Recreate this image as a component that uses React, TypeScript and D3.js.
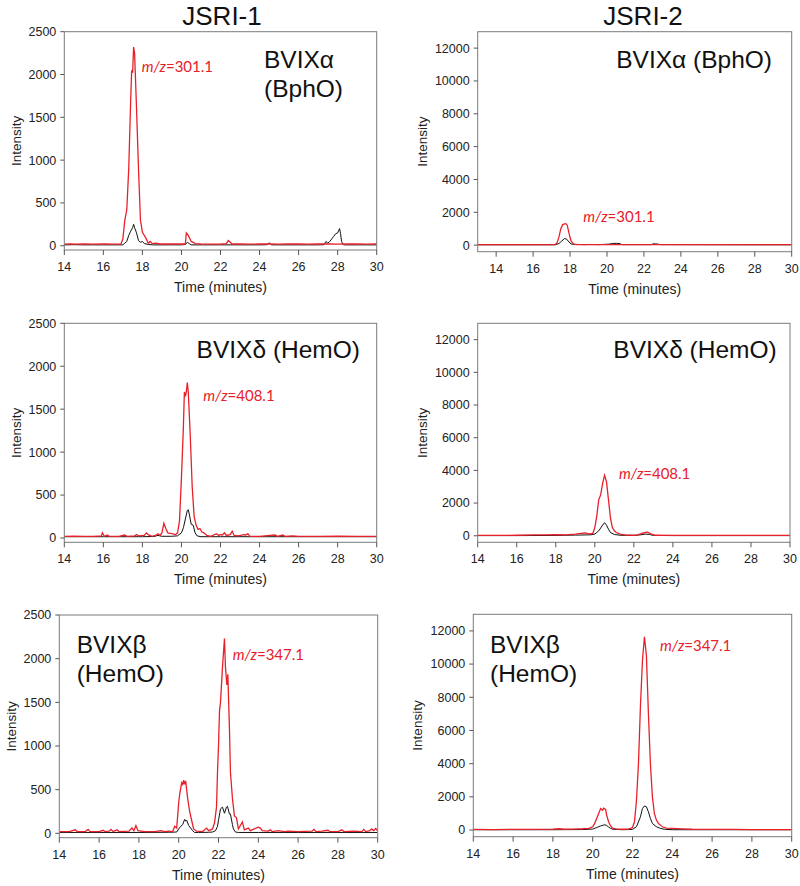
import React from "react";
import * as d3 from "d3";

type Pt = [number, number];

// ---------- Data (time in minutes, intensity) ----------
const columnTitles = ["JSRI-1", "JSRI-2"];
const xTicksStd = [14, 16, 18, 20, 22, 24, 26, 28, 30];
const yTicksLow = [0, 500, 1000, 1500, 2000, 2500];
const yTicksHigh = [0, 2000, 4000, 6000, 8000, 10000, 12000];

// JSRI-1 BVIXα
const redA: Pt[] = [[14,18],[14.3,22],[14.6,18],[15,20],[15.5,18],[16,22],[16.5,18],[16.9,20],[17,80],[17.1,300],[17.2,420],[17.3,900],[17.4,1700],[17.45,2050],[17.5,2020],[17.55,2320],[17.6,2250],[17.7,1600],[17.8,900],[17.9,300],[18,160],[18.1,120],[18.2,80],[18.3,30],[18.4,50],[18.5,25],[18.7,30],[18.9,20],[19.2,22],[19.5,20],[19.9,20],[20.2,20],[20.25,150],[20.35,120],[20.5,50],[20.6,40],[20.7,25],[21,20],[21.5,18],[22,20],[22.3,25],[22.4,60],[22.5,40],[22.6,20],[23,20],[23.5,18],[24,20],[24.5,22],[25,18],[25.5,20],[26,20],[26.5,18],[27,20],[27.5,20],[28,18],[28.5,20],[29,20],[29.5,18],[30,20]];
const blackA: Pt[] = [[14,10],[14.5,12],[15,10],[15.5,10],[16,10],[16.5,10],[17,10],[17.1,30],[17.2,50],[17.3,120],[17.4,170],[17.5,210],[17.55,250],[17.6,210],[17.7,150],[17.8,60],[17.9,40],[18,50],[18.1,25],[18.3,15],[18.5,10],[19,10],[19.5,10],[20,10],[20.2,15],[20.3,40],[20.4,25],[20.5,10],[21,10],[22,10],[23,10],[24,10],[24.4,12],[24.5,35],[24.6,10],[25,10],[26,10],[27,10],[27.3,12],[27.4,50],[27.5,30],[27.6,50],[27.7,80],[27.8,110],[27.9,140],[28,150],[28.1,200],[28.15,140],[28.2,50],[28.3,10],[28.5,10],[29,10],[30,10]];

// JSRI-2 BVIXα
const redB: Pt[] = [[13,30],[14,30],[15,30],[16,30],[17,30],[17.2,40],[17.3,150],[17.4,500],[17.5,1000],[17.6,1250],[17.7,1300],[17.8,1300],[17.85,1200],[17.95,700],[18.05,250],[18.2,60],[18.4,30],[19,30],[20,30],[21,30],[22,30],[23,30],[24,30],[25,30],[26,30],[27,30],[28,30],[29,30],[30,30]];
const blackB: Pt[] = [[13,20],[17.2,20],[17.4,100],[17.55,250],[17.7,400],[17.8,380],[17.9,250],[18,120],[18.1,60],[18.3,40],[18.5,40],[18.8,30],[19,40],[19.6,30],[20.1,60],[20.3,100],[20.5,110],[20.7,90],[20.8,30],[22.4,30],[22.5,80],[22.7,70],[22.9,30],[28.4,20],[30,20]];

// JSRI-1 BVIXδ
const redC: Pt[] = [[14,20],[14.5,22],[15,20],[15.5,20],[15.9,25],[15.95,60],[16.05,20],[16.2,35],[16.3,20],[16.8,20],[17.1,35],[17.2,20],[17.6,25],[17.7,40],[17.8,25],[18.1,30],[18.2,60],[18.3,40],[18.5,20],[18.7,35],[18.8,50],[18.9,30],[19,60],[19.1,170],[19.2,110],[19.3,60],[19.5,50],[19.7,40],[19.8,60],[19.9,200],[20,700],[20.1,1300],[20.15,1700],[20.2,1650],[20.25,1700],[20.3,1810],[20.35,1700],[20.45,1200],[20.55,600],[20.65,250],[20.75,150],[20.85,100],[20.95,110],[21.05,70],[21.15,60],[21.3,30],[21.5,20],[21.8,50],[21.9,30],[22,40],[22.1,35],[22.2,60],[22.3,30],[22.5,40],[22.6,80],[22.7,30],[22.9,25],[23.2,40],[23.3,35],[23.4,50],[23.5,20],[24,20],[24.8,35],[24.9,20],[25.2,35],[25.3,20],[25.7,25],[26,20],[27,18],[28,22],[29,20],[30,20]];
const blackC: Pt[] = [[14,15],[16,15],[18,15],[18.6,18],[18.8,30],[19,20],[19.5,20],[19.8,25],[20,60],[20.1,120],[20.2,220],[20.3,320],[20.35,330],[20.4,280],[20.5,160],[20.6,150],[20.7,60],[20.8,25],[21,15],[22,15],[24,15],[26,15],[28,15],[30,15]];

// JSRI-2 BVIXδ
const redD: Pt[] = [[14,20],[15,20],[16,30],[16.9,60],[17.5,50],[18,70],[18.5,60],[19,100],[19.3,150],[19.5,170],[19.7,120],[19.9,150],[20,500],[20.1,1200],[20.2,2200],[20.3,2500],[20.4,3200],[20.5,3700],[20.6,3300],[20.7,2200],[20.8,1100],[20.9,500],[21,300],[21.1,200],[21.3,100],[21.6,40],[22,30],[22.2,50],[22.4,150],[22.6,200],[22.7,220],[22.9,100],[23.1,30],[24,20],[26,20],[28,20],[30,20]];
const blackD: Pt[] = [[14,10],[16,10],[18,20],[19,40],[19.5,50],[19.8,60],[20,100],[20.2,300],[20.4,650],[20.5,800],[20.6,650],[20.7,400],[20.8,200],[21,80],[21.3,30],[22,20],[22.3,50],[22.6,100],[22.8,80],[23,20],[24,10],[30,10]];

// JSRI-1 BVIXβ
const redE: Pt[] = [[14,20],[14.5,20],[14.8,40],[14.9,20],[15.3,20],[15.45,45],[15.55,20],[16,20],[16.2,35],[16.3,20],[16.5,25],[16.6,45],[16.7,20],[16.9,40],[17,20],[17.5,25],[17.65,60],[17.75,30],[17.85,90],[17.95,30],[18.3,20],[18.8,20],[19.1,30],[19.3,20],[19.5,25],[19.7,20],[19.8,80],[19.9,60],[20,350],[20.05,450],[20.15,580],[20.2,560],[20.25,610],[20.3,560],[20.35,600],[20.45,400],[20.55,250],[20.65,150],[20.75,50],[20.9,25],[21.2,20],[21.4,60],[21.5,30],[21.7,50],[21.8,120],[21.9,300],[21.95,700],[22,1000],[22.05,1400],[22.1,1500],[22.2,1900],[22.3,2230],[22.35,1900],[22.42,1700],[22.47,1820],[22.55,1200],[22.6,700],[22.7,400],[22.8,200],[22.9,180],[23,50],[23.1,90],[23.2,130],[23.3,40],[23.5,60],[23.6,30],[23.8,50],[24,70],[24.1,60],[24.2,30],[24.5,25],[24.6,40],[24.7,20],[25,30],[25.3,20],[25.5,25],[26,20],[26.7,25],[26.8,45],[26.9,20],[27.2,25],[27.5,35],[27.6,20],[28,20],[28.2,40],[28.3,20],[28.8,25],[29.2,20],[29.3,45],[29.4,20],[29.6,30],[29.7,50],[29.8,30],[29.9,55],[30,30]];
const blackE: Pt[] = [[14,10],[16,10],[18,10],[19.5,12],[19.9,15],[20,50],[20.1,80],[20.2,100],[20.3,160],[20.35,140],[20.4,150],[20.5,90],[20.6,60],[20.7,30],[20.8,10],[21,10],[21.5,12],[21.7,15],[21.85,30],[21.95,80],[22,150],[22.1,280],[22.2,300],[22.3,230],[22.4,300],[22.45,310],[22.55,220],[22.6,220],[22.7,100],[22.75,50],[22.85,15],[23,10],[24,10],[26,10],[28,10],[30,10]];

// JSRI-2 BVIXβ
const redF: Pt[] = [[14,40],[15,30],[16,40],[17,40],[18,60],[18.3,80],[18.6,50],[19,60],[19.5,80],[19.8,100],[20,200],[20.1,400],[20.2,700],[20.3,1000],[20.4,1300],[20.5,1200],[20.55,1320],[20.65,1250],[20.7,900],[20.8,500],[20.9,250],[21,120],[21.2,60],[21.5,50],[21.8,60],[22,150],[22.1,500],[22.2,1800],[22.3,4000],[22.4,7500],[22.5,10200],[22.6,11650],[22.7,10500],[22.8,7000],[22.9,4000],[23,2000],[23.1,1000],[23.2,600],[23.3,400],[23.5,200],[23.7,120],[24,100],[24.5,70],[25,50],[26,40],[27,40],[28,30],[29,30],[30,30]];
const blackF: Pt[] = [[14,20],[18,20],[19.5,30],[20,60],[20.2,150],[20.4,250],[20.6,320],[20.7,280],[20.8,180],[20.9,100],[21,50],[21.5,20],[22,40],[22.2,200],[22.4,800],[22.5,1300],[22.6,1450],[22.7,1400],[22.8,1100],[22.9,700],[23,400],[23.2,200],[23.4,100],[23.6,50],[24,20],[26,20],[30,20]];

const compoundLabels = [["BVIXα", "(BphO)"], ["BVIXα (BphO)"], ["BVIXδ (HemO)"], ["BVIXδ (HemO)"], ["BVIXβ", "(HemO)"], ["BVIXβ", "(HemO)"]];
const mzLabels = ["301.1", "301.1", "408.1", "408.1", "347.1", "347.1"];

// ---------- Layout ----------
const RED = "#e8202a";
const FONT = "'Liberation Sans', Arial, sans-serif";

interface Panel {
  left: number; right: number; top: number; bottom: number;
  xDomain: [number, number]; yDomain: [number, number];
  yTicks: number[]; red: Pt[]; black: Pt[];
  label: string[]; labelX: number; labelY: number; labelAnchor: string;
  mz: string; mzX: number; mzY: number; yLabelX: number;
}

const panels: Panel[] = [
  { left: 64.3, right: 376.7, top: 31.7, bottom: 250, xDomain: [14, 30], yDomain: [-50, 2500], yTicks: yTicksLow, red: redA, black: blackA, label: compoundLabels[0], labelX: 264, labelY: 68, labelAnchor: "start", mz: mzLabels[0], mzX: 141.7, mzY: 72, yLabelX: 16 },
  { left: 477.7, right: 791.7, top: 31.7, bottom: 251.7, xDomain: [13, 30], yDomain: [-400, 13000], yTicks: yTicksHigh, red: redB, black: blackB, label: compoundLabels[1], labelX: 772, labelY: 68, labelAnchor: "end", mz: mzLabels[1], mzX: 583.3, mzY: 222, yLabelX: 422 },
  { left: 64.3, right: 376.7, top: 323.3, bottom: 542.3, xDomain: [14, 30], yDomain: [-50, 2500], yTicks: yTicksLow, red: redC, black: blackC, label: compoundLabels[2], labelX: 360, labelY: 358, labelAnchor: "end", mz: mzLabels[2], mzX: 203.3, mzY: 401, yLabelX: 16 },
  { left: 477.7, right: 790, top: 323.3, bottom: 542.3, xDomain: [14, 30], yDomain: [-400, 13000], yTicks: yTicksHigh, red: redD, black: blackD, label: compoundLabels[3], labelX: 776.7, labelY: 358, labelAnchor: "end", mz: mzLabels[3], mzX: 619, mzY: 479, yLabelX: 422 },
  { left: 59.3, right: 377.7, top: 615, bottom: 837.7, xDomain: [14, 30], yDomain: [-50, 2500], yTicks: yTicksLow, red: redE, black: blackE, label: compoundLabels[4], labelX: 76.7, labelY: 653, labelAnchor: "start", mz: mzLabels[4], mzX: 232.7, mzY: 660, yLabelX: 11 },
  { left: 473.3, right: 791.7, top: 614.3, bottom: 836.7, xDomain: [14, 30], yDomain: [-400, 13000], yTicks: yTicksHigh, red: redF, black: blackF, label: compoundLabels[5], labelX: 490, labelY: 653, labelAnchor: "start", mz: mzLabels[5], mzX: 660, mzY: 651, yLabelX: 417 },
];

function ChartPanel({ p, idx }: { p: Panel; idx: number }) {
  const x = d3.scaleLinear().domain(p.xDomain).range([p.left, p.right]);
  const y = d3.scaleLinear().domain(p.yDomain).range([p.bottom, p.top]);
  const line = d3.line<Pt>().x((d) => x(d[0])).y((d) => y(d[1]));
  const clipId = `clip${idx}`;
  const cy = (p.top + p.bottom) / 2;
  return (
    <g>
      <defs>
        <clipPath id={clipId}>
          <rect x={p.left} y={p.top} width={p.right - p.left} height={p.bottom - p.top} />
        </clipPath>
      </defs>
      <g clipPath={`url(#${clipId})`}>
        <path d={line(p.black) || ""} fill="none" stroke="#111" strokeWidth={1} />
        <path d={line(p.red) || ""} fill="none" stroke={RED} strokeWidth={1.3} />
      </g>
      <rect x={p.left} y={p.top} width={p.right - p.left} height={p.bottom - p.top} fill="none" stroke="#7a7a7a" strokeWidth={1} />
      {xTicksStd.map((t) => (
        <g key={"x" + t}>
          <line x1={x(t)} x2={x(t)} y1={p.bottom} y2={p.bottom + 5} stroke="#555" />
          <text x={x(t)} y={p.bottom + 21} textAnchor="middle" fontSize={12.5} fill="#222" fontFamily={FONT}>{t}</text>
        </g>
      ))}
      {p.yTicks.map((t) => (
        <g key={"y" + t}>
          <line x1={p.left - 4} x2={p.left} y1={y(t)} y2={y(t)} stroke="#555" />
          <text x={p.left - 8} y={y(t) + 4.4} textAnchor="end" fontSize={12.5} fill="#222" fontFamily={FONT}>{t}</text>
        </g>
      ))}
      <text x={(p.left + p.right) / 2} y={p.bottom + 42} textAnchor="middle" fontSize={14} fill="#222" fontFamily={FONT}>Time (minutes)</text>
      <text transform={`translate(${p.yLabelX},${cy}) rotate(-90)`} textAnchor="middle" fontSize={13.5} fill="#222" fontFamily={FONT} dy="0.35em">Intensity</text>
      {p.label.map((s, i) => (
        <text key={s} x={p.labelX} y={p.labelY + i * 29} textAnchor={p.labelAnchor as any} fontSize={24.5} fill="#111" fontFamily={FONT}>{s}</text>
      ))}
      <text x={p.mzX} y={p.mzY} fontSize={15} fill={RED} fontFamily="Lato, 'Open Sans', sans-serif">
        <tspan fontStyle="italic">m/z</tspan>={p.mz}
      </text>
    </g>
  );
}

export default function App() {
  return (
    <svg width={800} height={886} style={{ position: "absolute", left: 0, top: 0, background: "#fff" }}>
      <rect width={800} height={886} fill="#fff" />
      <text x={222} y={25} textAnchor="middle" fontSize={26} fill="#111" fontFamily={FONT}>{columnTitles[0]}</text>
      <text x={643} y={25} textAnchor="middle" fontSize={26} fill="#111" fontFamily={FONT}>{columnTitles[1]}</text>
      {panels.map((p, i) => (
        <ChartPanel key={i} p={p} idx={i} />
      ))}
    </svg>
  );
}
